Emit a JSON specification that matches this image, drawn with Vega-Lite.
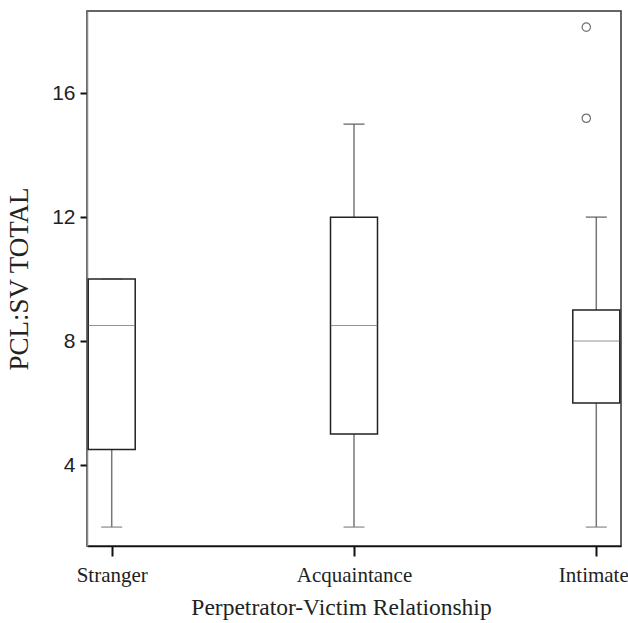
{
  "$schema": "https://vega.github.io/schema/vega-lite/v6.json",
  "autosize": "none",
  "width": 534,
  "height": 535,
  "padding": {"left": 87, "top": 11, "right": 7, "bottom": 77},
  "background": "white",
  "config": {"view": {"stroke": "#333", "strokeWidth": 1.5}},
  "datasets": {
    "stats": [
      {"group": "Stranger", "min": 2, "q1": 4.5, "median": 8.5, "q3": 10, "max": 10},
      {"group": "Acquaintance", "min": 2, "q1": 5, "median": 8.5, "q3": 12, "max": 15},
      {"group": "Intimate", "min": 2, "q1": 6, "median": 8, "q3": 9, "max": 12}
    ],
    "outliers": [
      {"group": "Intimate", "value": 18.13},
      {"group": "Intimate", "value": 15.19}
    ]
  },
  "encoding": {
    "x": {
      "field": "group", "type": "nominal",
      "sort": ["Stranger", "Acquaintance", "Intimate"],
      "scale": {"type": "point", "padding": 0.102},
      "axis": {
        "title": "Perpetrator-Victim Relationship",
        "titleFont": "Liberation Serif", "titleFontSize": 23.5, "titleFontWeight": "normal", "titleColor": "#222", "titlePadding": 10,
        "titleX": 254,
        "labelFont": "Liberation Serif", "labelFontSize": 21, "labelColor": "#222", "labelAngle": 0, "labelPadding": 8,
        "labelOffset": {"condition": {"test": "datum.value == 'Intimate'", "value": -3}, "value": 0},
        "tickColor": "#111", "tickSize": 10, "tickWidth": 2,
        "domainColor": "#111", "domainWidth": 1.5, "grid": false
      }
    }
  },
  "layer": [
    {
      "data": {"name": "stats"},
      "mark": {"type": "rule", "color": "#777", "strokeWidth": 1.5},
      "encoding": {
        "y": {
          "field": "min", "type": "quantitative",
          "scale": {"domain": [1.39, 18.65], "nice": false, "zero": false},
          "axis": {
            "title": "PCL:SV TOTAL", "values": [4, 8, 12, 16],
            "titleFont": "Liberation Serif", "titleFontSize": 27, "titleFontWeight": "normal", "titleColor": "#222", "titlePadding": 18,
            "labelFont": "Liberation Sans", "labelFontSize": 21, "labelColor": "#222", "labelPadding": 5,
            "tickColor": "#111", "tickSize": 7, "tickWidth": 2,
            "domainColor": "#888", "domainWidth": 1.5, "grid": false
          }
        },
        "y2": {"field": "max"}
      }
    },
    {
      "data": {"name": "stats"},
      "mark": {"type": "bar", "width": 47, "fill": "white", "stroke": "#222", "strokeWidth": 1.5},
      "encoding": {
        "y": {"field": "q1", "type": "quantitative"},
        "y2": {"field": "q3"}
      }
    },
    {
      "data": {"name": "stats"},
      "mark": {"type": "tick", "size": 47, "thickness": 1, "color": "#666"},
      "encoding": {"y": {"field": "median", "type": "quantitative"}}
    },
    {
      "data": {"name": "stats"},
      "mark": {"type": "tick", "size": 21, "thickness": 1.5, "color": "#777"},
      "encoding": {"y": {"field": "min", "type": "quantitative"}}
    },
    {
      "data": {"name": "stats"},
      "mark": {"type": "tick", "size": 21, "thickness": 1.5, "color": "#444"},
      "encoding": {"y": {"field": "max", "type": "quantitative"}}
    },
    {
      "data": {"name": "outliers"},
      "mark": {"type": "point", "shape": "circle", "size": 70, "filled": false, "stroke": "#333", "strokeWidth": 1.2, "xOffset": -10},
      "encoding": {"y": {"field": "value", "type": "quantitative"}}
    }
  ]
}
